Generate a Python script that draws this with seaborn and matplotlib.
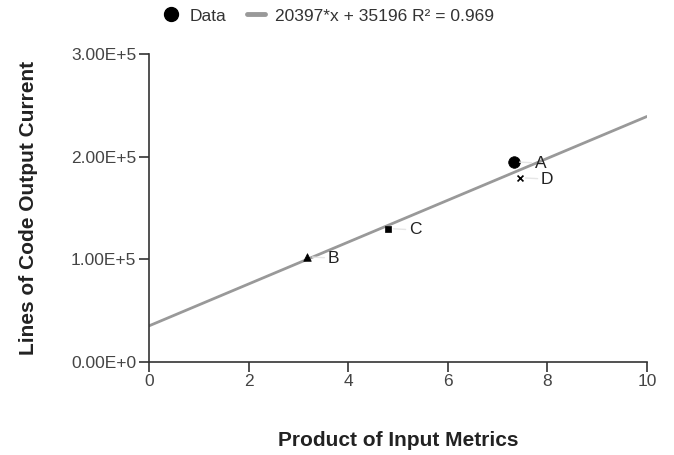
import matplotlib
matplotlib.use("Agg")
import matplotlib.pyplot as plt
import seaborn as sns
import numpy as np
import pandas as pd
from matplotlib.lines import Line2D

labels = ["A", "B", "C", "D"]
x_vals = [7.33, 3.17, 4.80, 7.45]
y_vals = [195000, 102500, 130000, 179500]
marker_shapes = {"A": "o", "B": "^", "C": "s", "D": "x"}
marker_sizes = {"A": 70, "B": 30, "C": 25, "D": 18}
slope = 20397
intercept = 35196
r2 = 0.969
x_ticks = [0, 2, 4, 6, 8, 10]
y_ticks = [0, 100000, 200000, 300000]
y_tick_labels = ["0.00E+0", "1.00E+5", "2.00E+5", "3.00E+5"]

sns.set_theme(style="white")
plt.rcParams['font.family'] = ['Liberation Sans', 'DejaVu Sans']

df = pd.DataFrame({"x": x_vals, "y": y_vals, "label": labels})

fig = plt.figure(figsize=(6.74, 4.55), dpi=100)
ax = fig.add_axes([149/674, 1-362/455, (647-149)/674, (362-54)/455])

line_x = np.array([0, 10])
line_df = pd.DataFrame({"x": line_x, "y": slope*line_x + intercept})
sns.lineplot(data=line_df, x="x", y="y", ax=ax, color="#999999", linewidth=2, zorder=2)

for lab in labels:
    sub = df[df.label == lab]
    m = marker_shapes[lab]
    kw = dict(linewidth=1.2) if m == "x" else dict(edgecolor="black", linewidth=0.5)
    sns.scatterplot(data=sub, x="x", y="y", ax=ax, marker=m, s=marker_sizes[lab],
                    color="black", zorder=3, legend=False, **kw)

for xv, yv, lab in zip(x_vals, y_vals, labels):
    ax.annotate(lab, xy=(xv, yv), xytext=(15, -1), textcoords="offset points",
                va="center", ha="left", fontsize=12.5, color="#222222",
                arrowprops=dict(arrowstyle="-", color="#e6e6e6", lw=1,
                                shrinkA=0, shrinkB=4))

ax.set_xlim(0, 10)
ax.set_ylim(0, 300000)
ax.set_xticks(x_ticks)
ax.set_xticklabels([str(t) for t in x_ticks])
ax.set_yticks(y_ticks)
ax.set_yticklabels(y_tick_labels)

for s in ["top", "right"]:
    ax.spines[s].set_visible(False)
for s in ["left", "bottom"]:
    ax.spines[s].set_color("#333333")
    ax.spines[s].set_linewidth(1.2)

ax.tick_params(axis="both", which="major", direction="out", length=7, width=1.2,
               color="#333333", labelsize=12.5, labelcolor="#444444", pad=2,
               bottom=True, left=True)

ax.set_xlabel("Product of Input Metrics", fontsize=15, fontweight="bold", color="#222222", labelpad=30)
ax.set_ylabel("Lines of Code Output Current", fontsize=15, fontweight="bold", color="#222222", labelpad=24)

handles = [
    Line2D([0], [0], marker="o", color="none", markerfacecolor="black", markeredgecolor="black", markersize=10),
    Line2D([0], [0], color="#999999", linewidth=3.5),
]
leg_labels = ["Data", f"{slope}*x + {intercept} R\u00b2 = {r2}"]
fig.legend(handles, leg_labels, loc="center", bbox_to_anchor=(328/674, 1-16/455), ncol=2,
           frameon=False, fontsize=12.5, handlelength=1.0, handletextpad=0.6, columnspacing=1.2,
           labelcolor="#333333")

fig.savefig("out.png", dpi=100)
